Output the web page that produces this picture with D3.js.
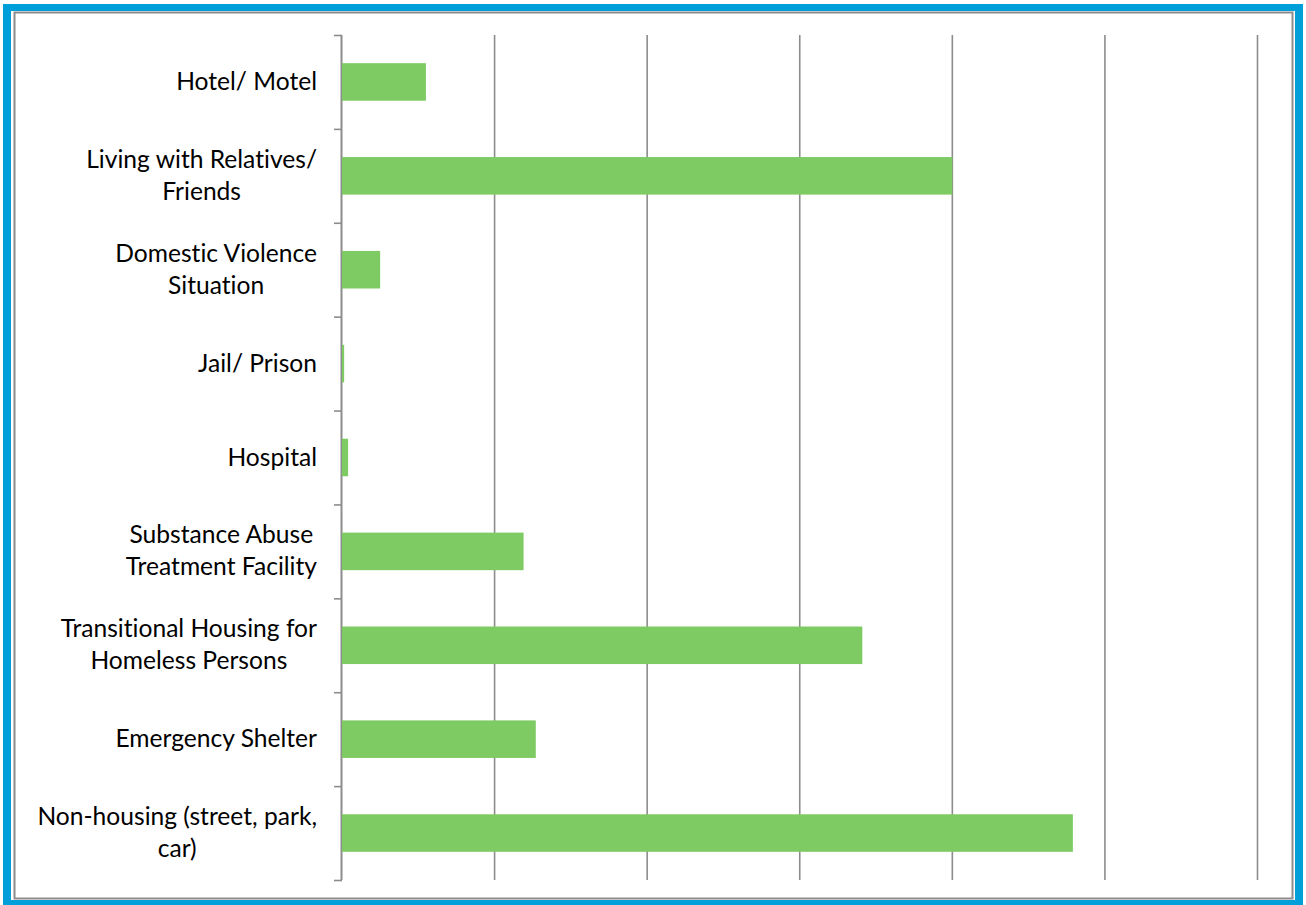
<!DOCTYPE html>
<html>
<head>
<meta charset="utf-8">
<script src="https://cdn.jsdelivr.net/npm/d3@7"></script>
<style>
  body { margin: 0; background: #fff; }
  svg { display: block; }
</style>
</head>
<body>
<div id="chart"></div>
<script>
// Prior living situation - horizontal bars
const categories = [
  ["Hotel/ Motel"],
  ["Living with Relatives/", "Friends"],
  ["Domestic Violence", "Situation"],
  ["Jail/ Prison"],
  ["Hospital"],
  ["Substance Abuse", "Treatment Facility"],
  ["Transitional Housing for", "Homeless Persons"],
  ["Emergency Shelter"],
  ["Non-housing (street, park,", "car)"]
];
const values = [2.75, 20, 1.25, 0.07, 0.2, 5.95, 17.05, 6.35, 23.95];
const gridTicks = [5, 10, 15, 20, 25, 30];

const W = 1306, H = 905;
const plot = { left: 342, right: 1257.5, top: 35, bottom: 880 };

const svg = d3.select("#chart")
  .append("svg")
  .attr("width", W)
  .attr("height", H);

// frame
svg.append("rect")
  .attr("x", 3).attr("y", 4).attr("width", 1300).attr("height", 901)
  .attr("fill", "#009fda");
svg.append("rect")
  .attr("x", 11).attr("y", 11).attr("width", 1284).attr("height", 889)
  .attr("fill", "#fff");
svg.append("rect")
  .attr("x", 14.5).attr("y", 12.5).attr("width", 1278).attr("height", 886)
  .attr("fill", "none")
  .attr("stroke", "#8c8c8c")
  .attr("stroke-width", 2);

// scales
const x = d3.scaleLinear()
  .domain([0, 30])
  .range([plot.left, plot.right]);

const y = d3.scaleBand()
  .domain(d3.range(categories.length))
  .range([plot.top, plot.bottom])
  .paddingInner(0.6)
  .paddingOuter(0.3);

const yEdges = d3.scaleLinear()
  .domain([0, categories.length])
  .range([plot.top, plot.bottom]);

// gridlines
svg.append("g")
  .selectAll("line")
  .data(gridTicks)
  .join("line")
  .attr("x1", d => x(d))
  .attr("x2", d => x(d))
  .attr("y1", plot.top)
  .attr("y2", plot.bottom)
  .attr("stroke", "#8c8c8c")
  .attr("stroke-width", 1.6);

// category axis with ticks on the boundaries
const axis = svg.append("g")
  .attr("transform", `translate(${plot.left}, 0)`)
  .call(d3.axisLeft(yEdges).ticks(categories.length).tickSize(8).tickFormat(""));
axis.select(".domain").remove();
axis.selectAll("line").attr("stroke", "#8c8c8c").attr("stroke-width", 1.6);
svg.append("line")
  .attr("x1", plot.left - 0.5).attr("x2", plot.left - 0.5)
  .attr("y1", plot.top).attr("y2", plot.bottom)
  .attr("stroke", "#8c8c8c")
  .attr("stroke-width", 2);

// bars
svg.append("g")
  .selectAll("rect")
  .data(values)
  .join("rect")
  .attr("x", x(0))
  .attr("y", (d, i) => y(i))
  .attr("width", d => x(d) - x(0))
  .attr("height", y.bandwidth())
  .attr("fill", "#7ecb63");

// labels, right aligned block, lines centered within it
const labelRight = 317;
const lineH = 32;
const labels = svg.append("g")
  .style("font-family", "Lato, 'Open Sans', sans-serif")
  .style("font-size", "24.6px")
  .style("font-variant-ligatures", "none")
  .attr("fill", "#000");

categories.forEach((lines, i) => {
  const cy = y(i) + y.bandwidth() / 2;
  const t = labels.append("text").attr("text-anchor", "middle");
  const first = cy + 8 - (lines.length - 1) * lineH / 2;
  const spans = lines.map((s, j) => t.append("tspan")
    .attr("y", first + j * lineH)
    .text(s));
  const maxW = d3.max(spans, s => s.node().getComputedTextLength());
  spans.forEach(s => s.attr("x", labelRight - maxW / 2));
});
</script>
</body>
</html>
